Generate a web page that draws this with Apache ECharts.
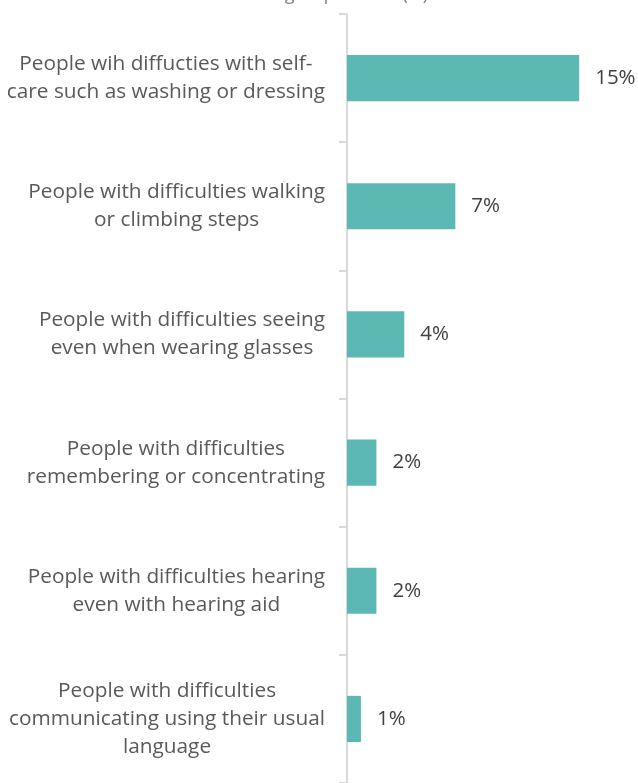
<!DOCTYPE html>
<html>
<head>
<meta charset="utf-8">
<script src="https://cdn.jsdelivr.net/npm/echarts@6/dist/echarts.min.js"></script>
<style>
  html, body { margin: 0; padding: 0; background: #ffffff; }
  #chart { width: 638px; height: 783px; }
</style>
</head>
<body>
<div id="chart"></div>
<script>
// Functional difficulty groups, listed top to bottom
const categories = [
  'People wih diffucties with self-\ncare such as washing or dressing',
  'People with difficulties walking\nor climbing steps',
  'People with difficulties seeing\neven when wearing glasses',
  'People with difficulties\nremembering or concentrating',
  'People with difficulties hearing\neven with hearing aid',
  'People with difficulties\ncommunicating using their usual\nlanguage'
];

// Share of each group (%)
const shares = [15.0, 7.0, 3.7, 1.9, 1.9, 0.9];

const titleText = 'Share of group in total (%)';

const FONT = "'Open Sans', 'Noto Sans', sans-serif";
const chart = echarts.init(document.getElementById('chart'));

chart.setOption({
  backgroundColor: '#ffffff',
  animation: false,
  title: {
    text: titleText,
    left: 'center',
    top: -19,
    textStyle: { color: '#7f7f7f', fontSize: 18, fontWeight: 'normal', fontFamily: FONT }
  },
  grid: { left: 347, top: 14, width: 291, height: 778, containLabel: false },
  xAxis: {
    type: 'value',
    min: 0,
    max: 18.8,
    show: false
  },
  yAxis: {
    type: 'category',
    data: categories,
    inverse: true,
    axisLine: { show: true, lineStyle: { color: '#d9d9d9', width: 2 } },
    axisTick: { show: true, length: 8, lineStyle: { color: '#d9d9d9', width: 2 } },
    axisLabel: {
      margin: 22,
      color: '#595959',
      fontFamily: FONT,
      fontSize: 20.8,
      lineHeight: 28,
      formatter: function (v) {
        return v.split('\n').map(function (l) { return '{c|' + l + '}'; }).join('\n');
      },
      rich: {
        c: { align: 'center', color: '#595959', fontFamily: FONT, fontSize: 20.8, lineHeight: 28 }
      }
    },
    splitLine: { show: false }
  },
  series: [{
    type: 'bar',
    data: shares,
    barCategoryGap: '64%',
    itemStyle: { color: '#5cb8b2' },
    label: {
      show: true,
      position: 'right',
      distance: 16,
      color: '#404040',
      fontFamily: FONT,
      fontSize: 20.5,
      formatter: function (p) { return Math.round(p.value) + '%'; }
    }
  }]
});
</script>
</body>
</html>
